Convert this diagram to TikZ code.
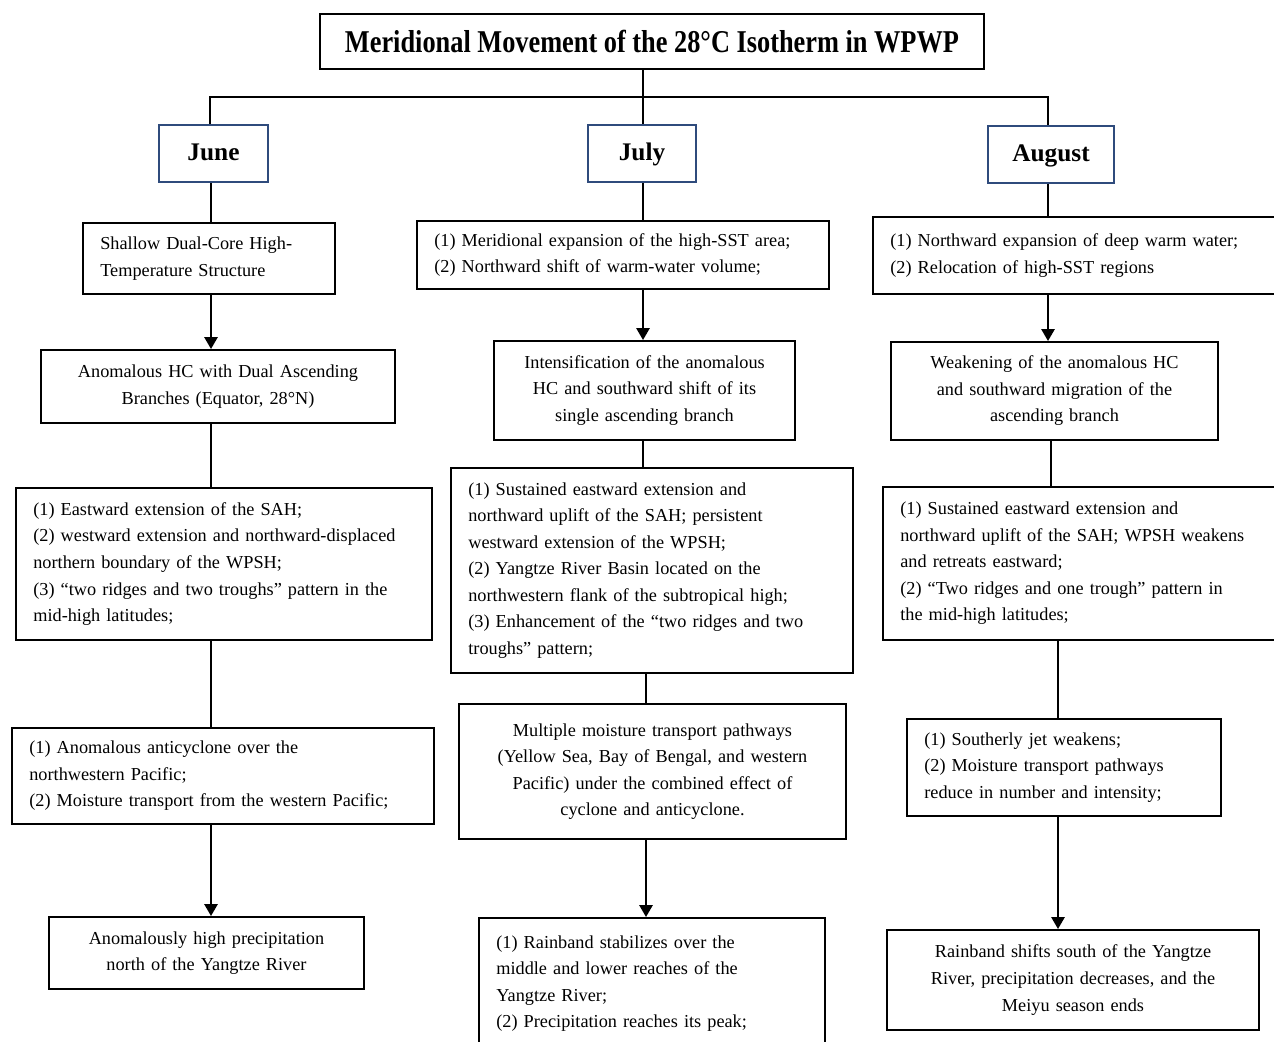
\documentclass[tikz,border=0pt]{standalone}
\usepackage{fontspec}
\setmainfont{Liberation Serif}
\newfontfamily\titlefont[FakeStretch=0.83]{Liberation Serif}
\usetikzlibrary{arrows.meta}
\definecolor{monthblue}{HTML}{2F4B7C}
\newcommand{\BodyF}{\fontsize{13.7}{19.9}\selectfont}

\begin{document}
\begin{tikzpicture}[x=0.75pt,y=-0.75pt]
			\tikzstyle{boxT} = [draw, line width=1.5pt, anchor=north west, minimum width=498pt,
				minimum height=41.25pt, font=\titlefont\fontsize{23.8}{28}\bfseries]
			\tikzstyle{boxM} = [draw=monthblue, line width=1.5pt, anchor=north west,
				text height=13.5pt, text depth=3pt,
				minimum height=42.75pt, font=\fontsize{19}{23}\selectfont\bfseries]
			\tikzstyle{boxL} = [draw, line width=1.5pt, anchor=north west, inner xsep=13pt,
				align=left, font=\BodyF]
			\tikzstyle{boxC} = [boxL, align=center]
			\tikzstyle{line} = [draw, line width=1.5pt]
			\tikzstyle{lineA} = [draw, line width=1.5pt, -{Triangle[length=9pt,width=10pt]}]

			\useasboundingbox (0,0) rectangle (1274,1042);
			\clip (0,0) rectangle (1274,1042);

			% column x positions of the connectors
			\coordinate (xJ) at (211,0);
			\coordinate (xU) at (643,0);
			\coordinate (xU2) at (646,0);
			\coordinate (xA) at (1048,0);
			\coordinate (xA2) at (1051,0);
			\coordinate (xA3) at (1058,0);

			\node(Title)[boxT] at (319,13) {Meridional Movement of the 28°C Isotherm in WPWP};

			\node(June)[boxM, minimum width=81.75pt] at (158,124) {June};
			\node(July)[boxM, minimum width=81pt] at (587,124) {July};
			\node(August)[boxM, minimum width=94.5pt] at (987,125) {August};

			\coordinate (barJ) at (210,97);
			\coordinate (barU) at (643,97);
			\coordinate (barA) at (1048,97);
			\draw[line] (Title.south -| barU) -- (barU);
			\draw[line] (June.north -| barJ) -- (barJ) -- (barA) -- (August.north -| barA);
			\draw[line] (barU) -- (July.north -| barU);

			% June
			\node(JuneSST)[boxL, text width=163pt, minimum height=53.25pt] at (82,222)
				{Shallow Dual-Core High-\\Temperature Structure};
			\node(JuneHC)[boxC, text width=239.5pt, minimum height=54.75pt] at (40,349)
				{Anomalous HC with Dual Ascending\\Branches (Equator, 28°N)};
			\node(JuneCirc)[boxL, text width=286pt, minimum height=114pt] at (15,487)
				{(1) Eastward extension of the SAH;\\(2) westward extension and northward-displaced\\northern boundary of the WPSH;\\(3) “two ridges and two troughs” pattern in the\\mid-high latitudes;};
			\node(JuneMoist)[boxL, text width=290.5pt, minimum height=72pt] at (11,727)
				{(1) Anomalous anticyclone over the\\northwestern Pacific;\\(2) Moisture transport from the western Pacific;};
			\node(JuneRain)[boxC, text width=210.25pt, minimum height=54pt] at (48,916)
				{Anomalously high precipitation\\north of the Yangtze River};

			\draw[line] (June.south -| xJ) -- (JuneSST.north -| xJ);
			\draw[lineA] (JuneSST.south -| xJ) -- (JuneHC.north -| xJ);
			\draw[line] (JuneHC.south -| xJ) -- (JuneCirc.north -| xJ);
			\draw[line] (JuneCirc.south -| xJ) -- (JuneMoist.north -| xJ);
			\draw[lineA] (JuneMoist.south -| xJ) -- (JuneRain.north -| xJ);

			% July
			\node(JulySST)[boxL, text width=283pt, minimum height=51pt] at (416,220)
				{(1) Meridional expansion of the high-SST area;\\(2) Northward shift of warm-water volume;};
			\node(JulyHC)[boxC, text width=199.75pt, minimum height=74.25pt] at (493,340)
				{Intensification of the anomalous\\HC and southward shift of its\\single ascending branch};
			\node(JulyCirc)[boxL, text width=275.5pt, minimum height=153.75pt] at (450,467)
				{(1) Sustained eastward extension and\\northward uplift of the SAH; persistent\\westward extension of the WPSH;\\(2) Yangtze River Basin located on the\\northwestern flank of the subtropical high;\\(3) Enhancement of the “two ridges and two\\troughs” pattern;};
			\node(JulyMoist)[boxC, text width=264.25pt, minimum height=101.25pt] at (458,703)
				{Multiple moisture transport pathways\\(Yellow Sea, Bay of Bengal, and western\\Pacific) under the combined effect of\\cyclone and anticyclone.};
			\node(JulyRain)[boxL, text width=233.5pt, minimum height=98.25pt] at (478,917)
				{(1) Rainband stabilizes over the\\middle and lower reaches of the\\Yangtze River;\\(2) Precipitation reaches its peak;};

			\draw[line] (July.south -| xU) -- (JulySST.north -| xU);
			\draw[lineA] (JulySST.south -| xU) -- (JulyHC.north -| xU);
			\draw[line] (JulyHC.south -| xU) -- (JulyCirc.north -| xU);
			\draw[line] (JulyCirc.south -| xU2) -- (JulyMoist.north -| xU2);
			\draw[lineA] (JulyMoist.south -| xU2) -- (JulyRain.north -| xU2);

			% August
			\node(AugSST)[boxL, text width=295pt, minimum height=57.75pt] at (872,216)
				{(1) Northward expansion of deep warm water;\\(2) Relocation of high-SST regions};
			\node(AugHC)[boxC, text width=219.25pt, minimum height=73.5pt] at (890,341)
				{Weakening of the anomalous HC\\and southward migration of the\\ascending branch};
			\node(AugCirc)[boxL, text width=287.5pt, minimum height=114.75pt] at (882,486)
				{(1) Sustained eastward extension and\\northward uplift of the SAH; WPSH weakens\\and retreats eastward;\\(2) “Two ridges and one trough” pattern in\\the mid-high latitudes;};
			\node(AugMoist)[boxL, text width=209.5pt, minimum height=72.75pt] at (906,718)
				{(1) Southerly jet weakens;\\(2) Moisture transport pathways\\reduce in number and intensity;};
			\node(AugRain)[boxC, text width=253pt, minimum height=75pt] at (886,929)
				{Rainband shifts south of the Yangtze\\River, precipitation decreases, and the\\Meiyu season ends};

			\draw[line] (August.south -| xA) -- (AugSST.north -| xA);
			\draw[lineA] (AugSST.south -| xA) -- (AugHC.north -| xA);
			\draw[line] (AugHC.south -| xA2) -- (AugCirc.north -| xA2);
			\draw[line] (AugCirc.south -| xA3) -- (AugMoist.north -| xA3);
			\draw[lineA] (AugMoist.south -| xA3) -- (AugRain.north -| xA3);

		\end{tikzpicture}
\end{document}
